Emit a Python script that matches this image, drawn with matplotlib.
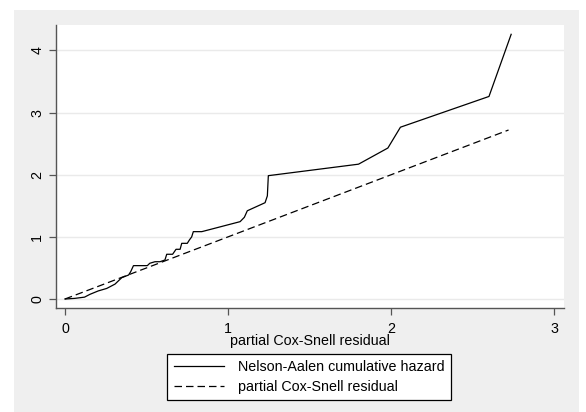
"""Cox-Snell residual check: Nelson-Aalen cumulative hazard vs. residual."""

import matplotlib
matplotlib.use("Agg")
import matplotlib.pyplot as plt
from matplotlib.patches import Rectangle

plt.rcParams['font.family'] = ['Liberation Sans', 'DejaVu Sans']

# Nelson-Aalen cumulative hazard
na_x = [0.0, 0.06, 0.12, 0.153, 0.204, 0.256, 0.307, 0.348, 0.39, 0.403, 0.42,
        0.505, 0.52, 0.552, 0.583, 0.613, 0.624, 0.66, 0.681, 0.706, 0.716,
        0.75, 0.763, 0.777, 0.787, 0.839, 1.074, 1.10, 1.118, 1.227, 1.241,
        1.247, 1.80, 1.98, 2.057, 2.60, 2.736]
na_y = [0.0, 0.01, 0.03, 0.075, 0.13, 0.17, 0.24, 0.343, 0.386, 0.44, 0.537,
        0.537, 0.575, 0.60, 0.60, 0.628, 0.72, 0.72, 0.80, 0.80, 0.896,
        0.896, 0.95, 1.0, 1.084, 1.084, 1.245, 1.315, 1.42, 1.55, 1.66,
        1.985, 2.17, 2.43, 2.765, 3.26, 4.26]

# reference line y = x over the residual range
ref_x = [0.0, 2.72]
ref_y = [0.0, 2.72]

x_ticks = [0, 1, 2, 3]
y_ticks = [0, 1, 2, 3, 4]

W, H = 586, 412
fig = plt.figure(figsize=(W / 100, H / 100), dpi=100)
fig.patch.set_facecolor("white")
fig.patches.append(Rectangle((14 / W, 0), (579 - 14) / W, (H - 10) / H,
                             transform=fig.transFigure, facecolor="#efefef",
                             edgecolor="none", zorder=-10))

ax = fig.add_axes([56 / W, (H - 307.7) / H, (564 - 56) / W, (307.7 - 25) / H])
ax.set_zorder(1)
ax.set_facecolor("white")

ax.plot(na_x, na_y, color="black", linewidth=0.9,
        label="Nelson-Aalen cumulative hazard")
ax.plot(ref_x, ref_y, color="black", linewidth=0.9, dashes=(6, 3.2),
        label="partial Cox-Snell residual")

ax.set_xlim(-0.055, 3.06)
ax.set_ylim(-0.14, 4.41)
ax.set_xticks(x_ticks)
ax.set_yticks(y_ticks)
ax.grid(axis="y", color="#eaeaea", linewidth=1.0)
ax.set_axisbelow(True)

for side in ("top", "right"):
    ax.spines[side].set_visible(False)
for side in ("left", "bottom"):
    ax.spines[side].set_color("#555555")
    ax.spines[side].set_linewidth(1.0)

ax.tick_params(direction="out", length=5, width=0.9, color="#555555",
               labelsize=10.3, labelcolor="black")
ax.tick_params(axis="x", pad=5)
for lab in ax.get_yticklabels():
    lab.set_rotation(90)
    lab.set_va("center")

ax.set_xlabel("partial Cox-Snell residual", fontsize=10.3, labelpad=-1)

leg = fig.legend(loc="center", bbox_to_anchor=(309 / W, 1 - 377 / H),
                 frameon=True, fancybox=False, edgecolor="black",
                 facecolor="white", framealpha=1, fontsize=10.3,
                 handlelength=3.5, handletextpad=1.0, labelspacing=0.4,
                 borderpad=0.45, borderaxespad=0)
leg.get_frame().set_linewidth(0.9)
leg.set_zorder(2)

fig.savefig("out.png", dpi=100)
plt.close(fig)
